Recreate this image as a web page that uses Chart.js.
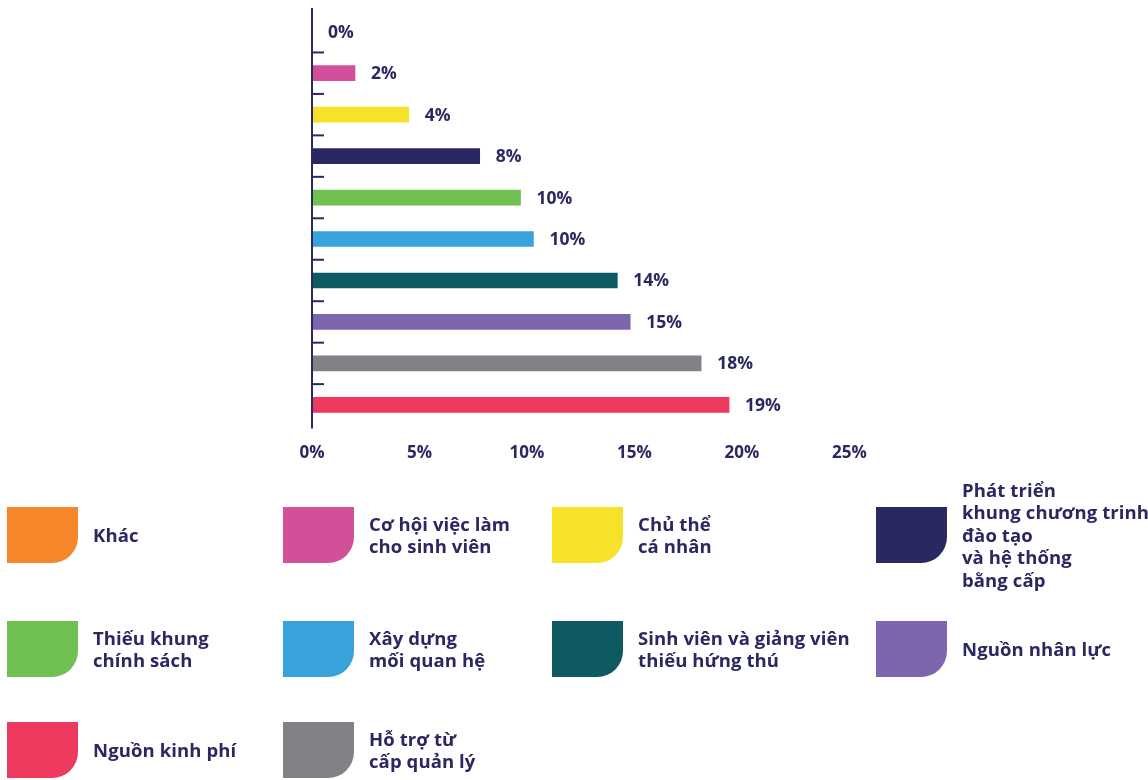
<!DOCTYPE html>
<html lang="vi">
<head>
<meta charset="utf-8">
<script src="https://cdn.jsdelivr.net/npm/chart.js@4.4.1/dist/chart.umd.min.js"></script>
<style>
  html, body { margin: 0; padding: 0; background: #fff; }
  body { width: 1148px; height: 780px; position: relative; overflow: hidden; font-family: "Open Sans", sans-serif; }
  #wrap { position: absolute; left: 0; top: 0; width: 1148px; height: 488px; }
  #legend { position: absolute; left: 0; top: 0; width: 1148px; height: 780px; pointer-events: none; }
  .item { position: absolute; display: flex; align-items: center; }
  .sw { width: 71px; height: 56px; border-radius: 0 0 26px 0; flex: none; }
  .txt { margin-left: 15px; color: #2A2860; font-weight: 700; font-size: 18.5px; line-height: 22.5px; white-space: pre; letter-spacing: 0.1px; }
</style>
</head>
<body>
<div id="wrap"><canvas id="grafikTroNgai"></canvas></div>
<div id="legend"></div>
<script>
const categories = ['Khác', 'Cơ hội việc làm\ncho sinh viên', 'Chủ thể\ncá nhân',
  'Phát triển\nkhung chương trinh\nđào tạo\nvà hệ thống\nbằng cấp',
  'Thiếu khung\nchính sách', 'Xây dựng\nmối quan hệ', 'Sinh viên và giảng viên\nthiếu hứng thú',
  'Nguồn nhân lực', 'Hỗ trợ từ\ncấp quản lý', 'Nguồn kinh phí'];
const values = [0, 2.0, 4.5, 7.8, 9.7, 10.3, 14.2, 14.8, 18.1, 19.4];
const valueLabels = ['0%', '2%', '4%', '8%', '10%', '10%', '14%', '15%', '18%', '19%'];
const colors = ['#F5872A', '#D24F9A', '#F6E228', '#2A2860', '#71C152', '#38A2DB', '#0D5A63', '#7D66AE', '#808285', '#EE3A5E'];
const xTicks = ['0%', '5%', '10%', '15%', '20%', '25%'];
const legendOrder = [0, 1, 2, 3, 4, 5, 6, 7, 9, 8];

const navy = '#2A2860';

// nhãn giá trị sau mỗi thanh + vạch chia trên trục y
const nhanPlugin = {
    id: 'nhan',
    afterDatasetsDraw(chart) {
        const c = chart.ctx;
        const meta = chart.getDatasetMeta(0);
        c.save();
        c.fillStyle = navy;
        c.font = '700 17.5px "Open Sans"';
        c.textAlign = 'left';
        c.textBaseline = 'middle';
        meta.data.forEach((bar, i) => {
            c.fillText(valueLabels[i], bar.x + 16, bar.y + 1);
        });
        const y = chart.scales.y;
        const left = chart.chartArea.left;
        c.strokeStyle = navy;
        c.lineWidth = 2;
        for (let i = 1; i < categories.length; i++) {
            const py = (y.getPixelForValue(i - 1) + y.getPixelForValue(i)) / 2;
            c.beginPath();
            c.moveTo(left, py);
            c.lineTo(left + 12, py);
            c.stroke();
        }
        c.beginPath();
        c.moveTo(left, chart.chartArea.top - 3);
        c.lineTo(left, chart.chartArea.bottom + 3);
        c.stroke();
        c.restore();
    }
};

const ctx = document.getElementById('grafikTroNgai').getContext('2d');

const configTroNgai = {
    type: 'bar',
    data: {
        labels: categories,
        datasets: [{
            data: values,
            backgroundColor: colors,
            borderWidth: 0,
            barThickness: 15,
        }]
    },
    options: {
        indexAxis: 'y',
        responsive: true,
        maintainAspectRatio: false,
        animation: false,
        layout: {
            padding: { left: 312, right: 298.5, top: 11, bottom: 8 }
        },
        scales: {
            x: {
                min: 0,
                max: 25,
                grid: { display: false, drawTicks: false },
                border: { display: false },
                ticks: {
                    stepSize: 5,
                    padding: 17,
                    color: navy,
                    font: { family: 'Open Sans', size: 17, weight: '700' },
                    callback: function(value) {
                        return xTicks[value / 5];
                    }
                }
            },
            y: {
                grid: { display: false, drawTicks: false },
                border: { display: false },
                ticks: { display: false }
            }
        },
        plugins: {
            legend: { display: false },
            tooltip: { enabled: false },
        }
    },
    plugins: [nhanPlugin]
};

const grafikTroNgai = new Chart(ctx, configTroNgai);

// chú thích kiểu ô vuông bo góc
const cotX = [7, 283, 552, 876];
const hangY = [507, 621, 722];
const lg = document.getElementById('legend');
legendOrder.forEach((idx, k) => {
    const it = document.createElement('div');
    it.className = 'item';
    it.style.left = cotX[k % 4] + 'px';
    it.style.top = hangY[Math.floor(k / 4)] + 'px';
    it.style.height = '56px';
    const sw = document.createElement('div');
    sw.className = 'sw';
    sw.style.background = colors[idx];
    const tx = document.createElement('div');
    tx.className = 'txt';
    tx.textContent = categories[idx];
    it.appendChild(sw);
    it.appendChild(tx);
    lg.appendChild(it);
});
</script>
</body>
</html>
